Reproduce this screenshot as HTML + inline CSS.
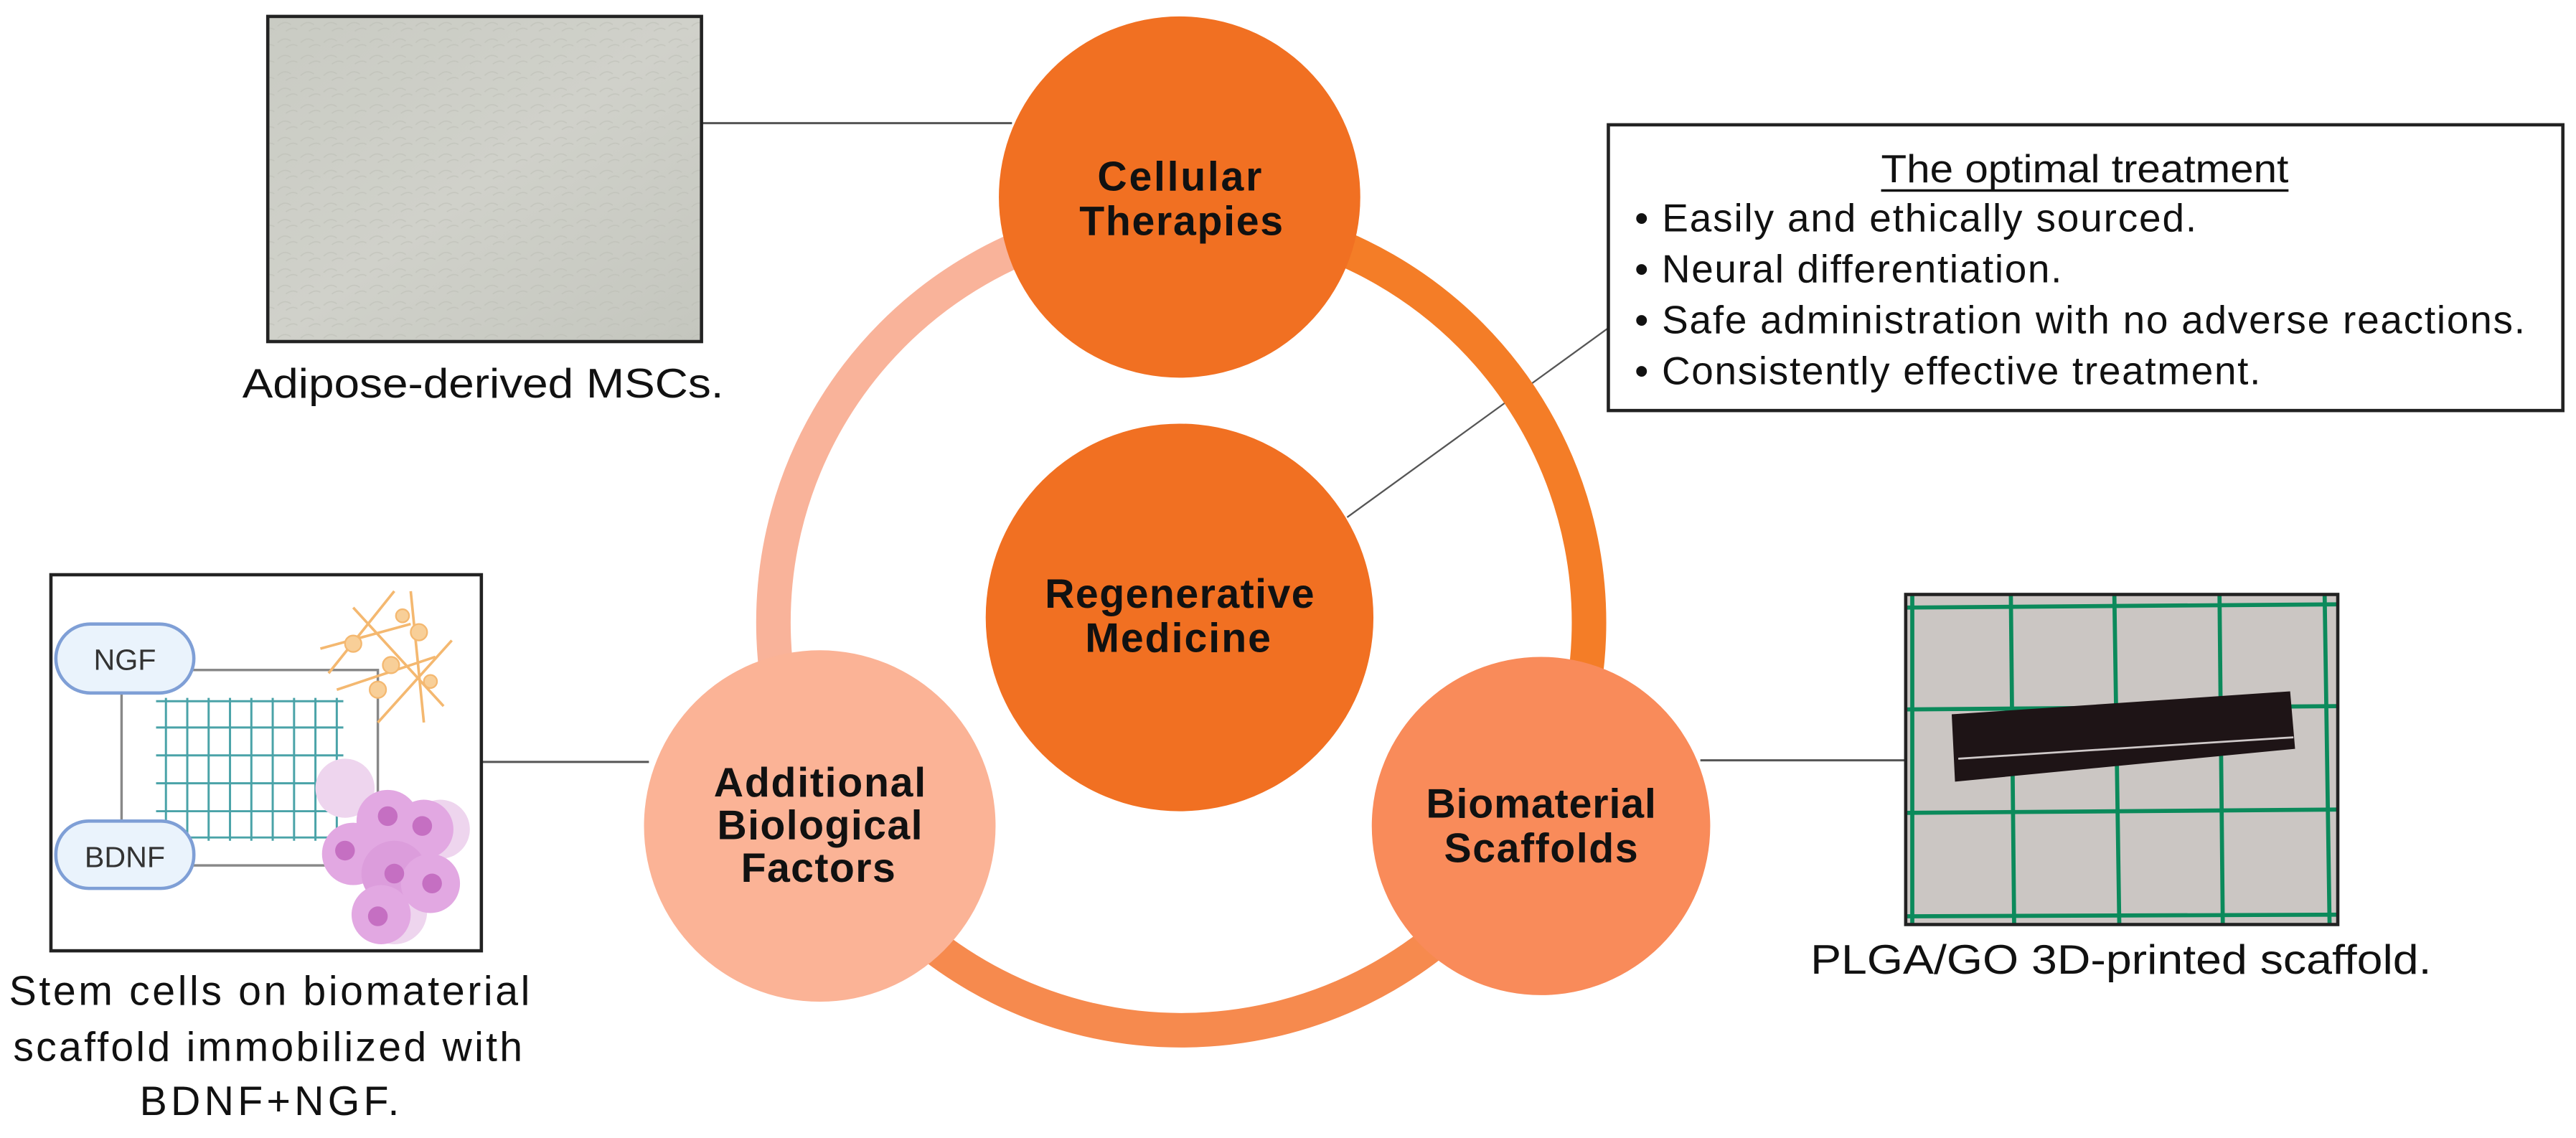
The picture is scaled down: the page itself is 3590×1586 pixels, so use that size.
<!DOCTYPE html>
<html><head><meta charset="utf-8"><style>
html,body{margin:0;padding:0;background:#fff;}
svg{display:block;}
text{font-family:"Liberation Sans",Arial,sans-serif;}
</style></head><body>
<svg width="3590" height="1586" viewBox="0 0 1568 693" preserveAspectRatio="none" xmlns="http://www.w3.org/2000/svg">
<defs>
<linearGradient id="photo1" x1="0" y1="0" x2="1" y2="1">
<stop offset="0" stop-color="#c9cbc3"/><stop offset="0.5" stop-color="#d0d1ca"/><stop offset="1" stop-color="#c4c6be"/>
</linearGradient>
<pattern id="cells" width="14" height="10" patternUnits="userSpaceOnUse">
<path d="M1 6 Q5 2 9 5 M6 9 Q10 6 13 8" stroke="#b9bbb2" stroke-width="0.7" fill="none"/>
</pattern>
</defs>

<!-- connector lines -->
<g stroke="#555" stroke-width="1.3">
<line x1="427" y1="75" x2="616" y2="75"/>
<line x1="293" y1="464" x2="395" y2="464"/>
<line x1="1035" y1="463" x2="1160" y2="463"/>
<line x1="820" y1="315" x2="980" y2="199" stroke-width="1"/>
</g>

<!-- ring arcs -->
<g fill="none" stroke-width="21">
<path d="M 719 131 A 248 248 0 0 0 504 503" stroke="#f9b39a"/>
<path d="M 719 131 A 248 248 0 0 1 934 503" stroke="#f47d27"/>
<path d="M 504 503 A 248 248 0 0 0 934 503" stroke="#f68a4e"/>
</g>

<!-- circles -->
<circle cx="718" cy="120" r="110" fill="#f17022"/>
<circle cx="718" cy="376" r="118" fill="#f17022"/>
<circle cx="499" cy="503" r="107" fill="#fbb396"/>
<circle cx="938" cy="503" r="103" fill="#f98b5a"/>

<g font-weight="bold" font-size="25" text-anchor="middle" fill="#111" lengthAdjust="spacingAndGlyphs">
<text x="718" y="116" textLength="100">Cellular</text><text x="719" y="143" textLength="124">Therapies</text>
<text x="718" y="370" textLength="164">Regenerative</text><text x="717" y="397" textLength="113">Medicine</text>
<text x="499" y="485" textLength="129">Additional</text><text x="499" y="511" textLength="125">Biological</text><text x="498" y="537" textLength="94">Factors</text>
<text x="938" y="498" textLength="140">Biomaterial</text><text x="938" y="525" textLength="118">Scaffolds</text>
</g>

<!-- top photo -->
<rect x="163" y="10" width="264" height="198" fill="url(#photo1)"/>
<rect x="163" y="10" width="264" height="198" fill="url(#cells)" opacity="0.5"/>
<rect x="163" y="10" width="264" height="198" fill="none" stroke="#222" stroke-width="2"/>
<text x="294" y="242" font-size="25" text-anchor="middle" fill="#111" textLength="293" lengthAdjust="spacingAndGlyphs">Adipose-derived MSCs.</text>

<!-- optimal treatment box -->
<rect x="979" y="76" width="581" height="174" fill="#fff" stroke="#222" stroke-width="2"/>
<text x="1269" y="111" font-size="24" text-anchor="middle" fill="#111" textLength="248" lengthAdjust="spacingAndGlyphs">The optimal treatment</text>
<line x1="1145" y1="116" x2="1393" y2="116" stroke="#111" stroke-width="1.5"/>
<g font-size="24" fill="#111" lengthAdjust="spacingAndGlyphs">
<text x="995" y="141" textLength="342">• Easily and ethically sourced.</text>
<text x="995" y="172" textLength="260">• Neural differentiation.</text>
<text x="995" y="203" textLength="542">• Safe administration with no adverse reactions.</text>
<text x="995" y="234" textLength="381">• Consistently effective treatment.</text>
</g>

<!-- left illustration -->
<rect x="31" y="350" width="262" height="229" fill="#fff" stroke="#222" stroke-width="2"/>
<rect x="74" y="408" width="156" height="119" fill="none" stroke="#888" stroke-width="1.5"/>
<g stroke="#4aa3a8" stroke-width="1.3" fill="none">
<path d="M95 427 H209 M95 443 H209 M95 460 H209 M95 477 H209 M95 494 H209 M95 510 H209"/>
<path d="M101 425 V512 M114 425 V512 M127 425 V512 M140 425 V512 M153 425 V512 M166 425 V512 M179 425 V512 M192 425 V512 M205 425 V512"/>
</g>
<g fill="#f8cf98" stroke="#f4b870" stroke-width="1">
<path d="M195 395 L250 380 M205 420 L265 400 M215 370 L270 430 M200 410 L240 360 M230 440 L275 390 M250 360 L258 440" stroke-width="1.6"/>
<circle cx="215" cy="392" r="5"/><circle cx="238" cy="405" r="5"/><circle cx="255" cy="385" r="5"/><circle cx="230" cy="420" r="5"/><circle cx="262" cy="415" r="4"/><circle cx="245" cy="375" r="4"/>
</g>
<g>
<circle cx="210" cy="480" r="18" fill="#eed5ee"/><circle cx="268" cy="505" r="18" fill="#eed5ee"/><circle cx="240" cy="555" r="20" fill="#eed5ee"/>
<circle cx="215" cy="520" r="19" fill="#e2a8e2"/><circle cx="236" cy="500" r="19" fill="#e2a8e2"/><circle cx="258" cy="505" r="18" fill="#e2a8e2"/>
<circle cx="240" cy="532" r="20" fill="#dc9ddc"/><circle cx="262" cy="538" r="18" fill="#e2a8e2"/><circle cx="232" cy="557" r="18" fill="#e2a8e2"/>
<g fill="#c56fc2"><circle cx="210" cy="518" r="6"/><circle cx="236" cy="497" r="6"/><circle cx="257" cy="503" r="6"/><circle cx="240" cy="532" r="6"/><circle cx="263" cy="538" r="6"/><circle cx="230" cy="558" r="6"/></g>
</g>
<rect x="34" y="380" width="84" height="42" rx="21" fill="#eaf3fc" stroke="#7f9fd6" stroke-width="2"/>
<rect x="34" y="500" width="84" height="41" rx="20" fill="#eaf3fc" stroke="#7f9fd6" stroke-width="2"/>
<text x="76" y="408" font-family="Liberation Serif,serif" font-size="18" text-anchor="middle" fill="#333">NGF</text>
<text x="76" y="528" font-family="Liberation Serif,serif" font-size="18" text-anchor="middle" fill="#333">BDNF</text>
<g font-size="25" text-anchor="middle" fill="#111" lengthAdjust="spacingAndGlyphs">
<text x="164" y="612" textLength="317">Stem cells on biomaterial</text>
<text x="163" y="646" textLength="310">scaffold immobilized with</text>
<text x="164" y="679" textLength="158">BDNF+NGF.</text>
</g>

<!-- right photo -->
<rect x="1160" y="362" width="263" height="201" fill="#cbc6c3"/>
<g stroke="#0b8a5b" stroke-width="2.5">
<line x1="1164" y1="362" x2="1164" y2="563"/><line x1="1224" y1="362" x2="1226" y2="563"/><line x1="1287" y1="362" x2="1290" y2="563"/><line x1="1351" y1="362" x2="1353" y2="563"/><line x1="1415" y1="362" x2="1418" y2="563"/>
<line x1="1160" y1="370" x2="1423" y2="368"/><line x1="1160" y1="432" x2="1423" y2="430"/><line x1="1160" y1="495" x2="1423" y2="493"/><line x1="1160" y1="558" x2="1423" y2="557"/>
</g>
<polygon points="1188,435 1394,421 1397,456 1190,476" fill="#1e1416"/>
<line x1="1192" y1="462" x2="1396" y2="449" stroke="#cfc9c9" stroke-width="1.2"/>
<rect x="1160" y="362" width="263" height="201" fill="none" stroke="#222" stroke-width="2"/>
<text x="1291" y="593" font-size="25" text-anchor="middle" fill="#111" textLength="378" lengthAdjust="spacingAndGlyphs">PLGA/GO 3D-printed scaffold.</text>
</svg>
</body></html>
